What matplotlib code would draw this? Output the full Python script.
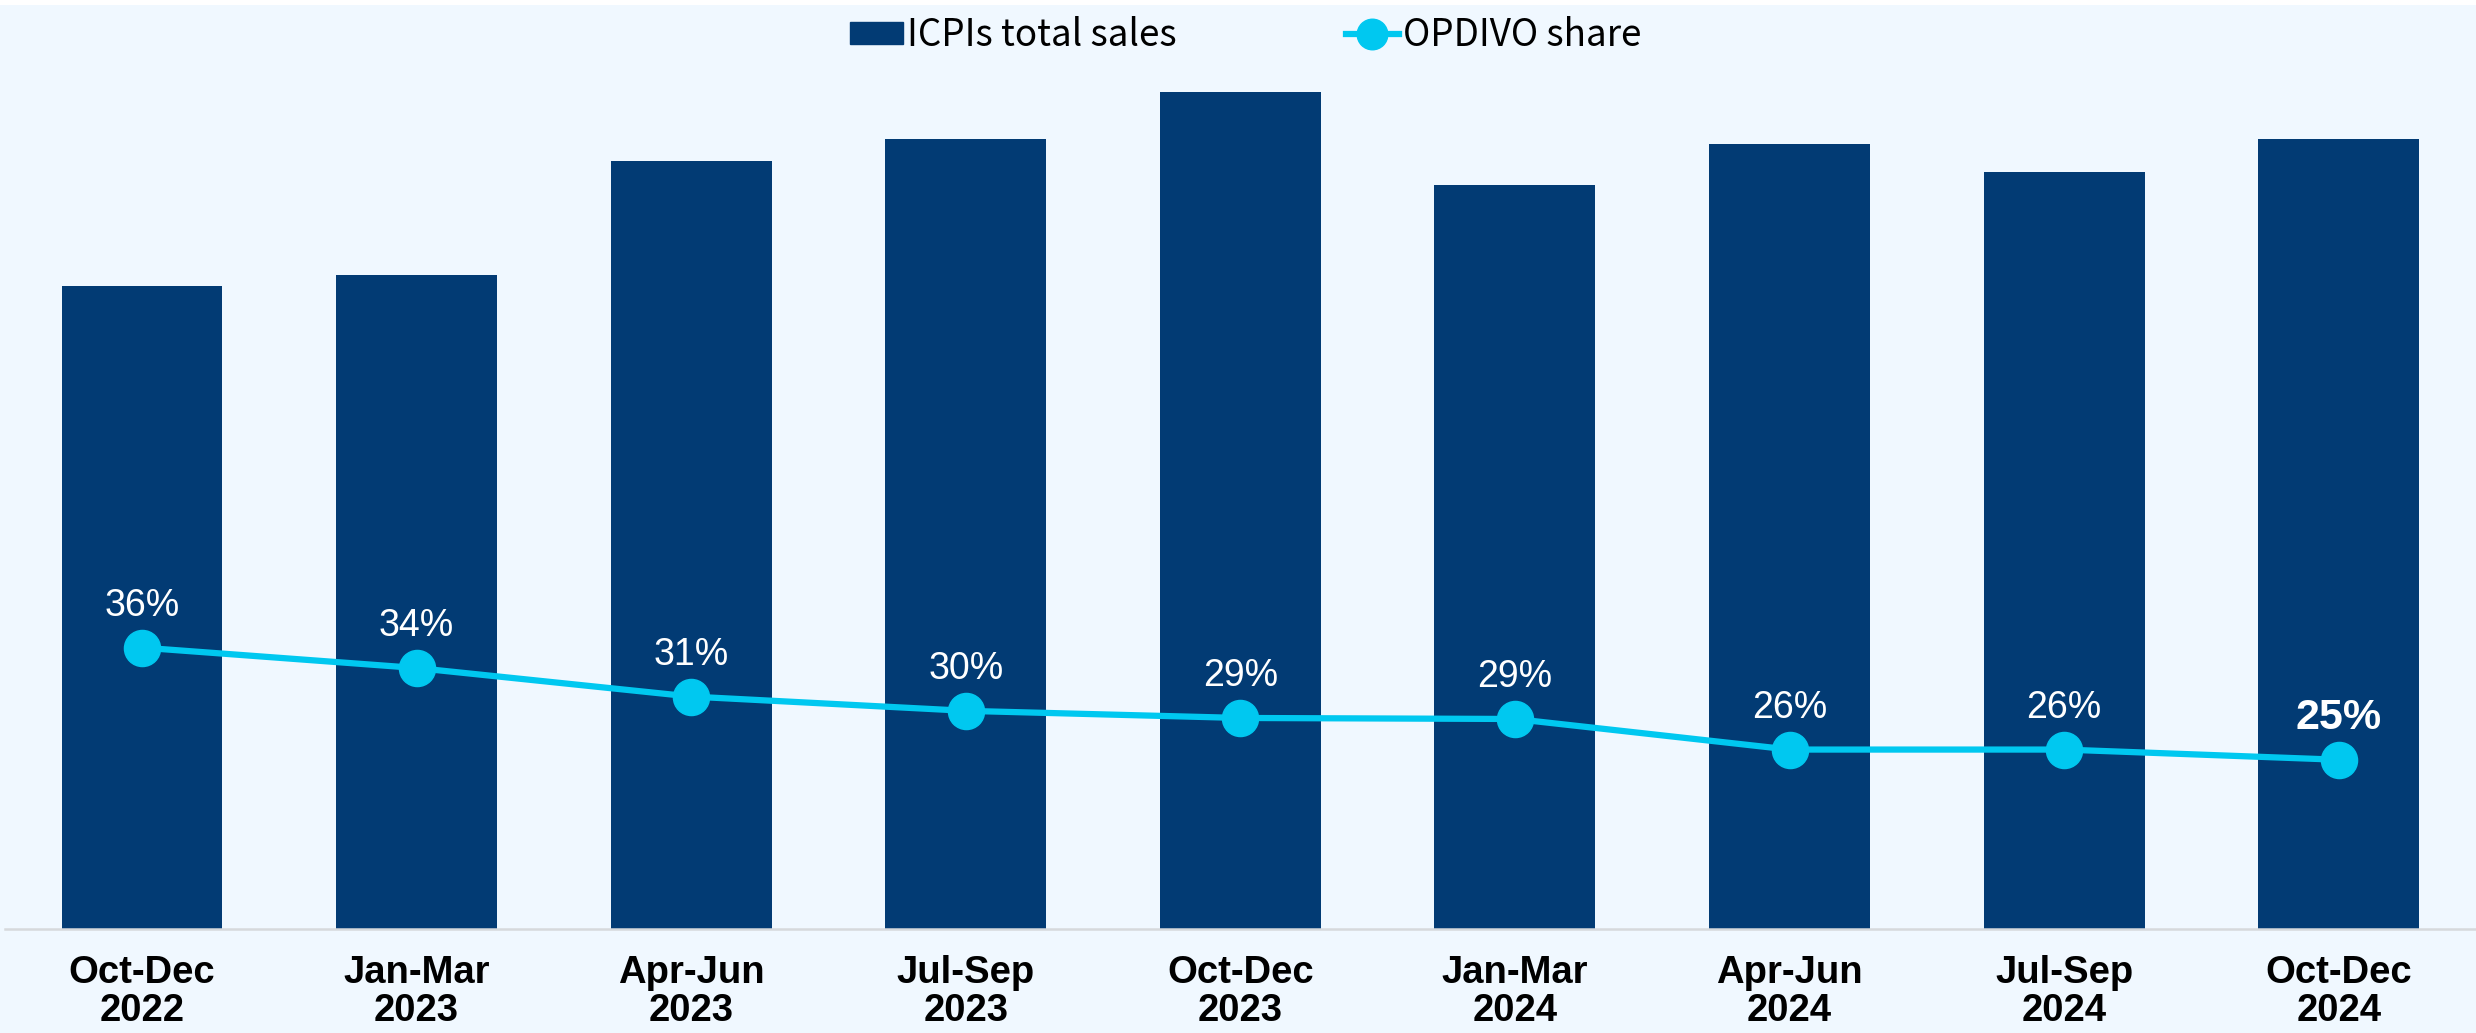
import matplotlib.pyplot as plt
import matplotlib.patches as mpatches
from matplotlib.lines import Line2D

# data (bar heights in arbitrary units, share in %)
periods = ["Oct-Dec\n2022", "Jan-Mar\n2023", "Apr-Jun\n2023", "Jul-Sep\n2023",
           "Oct-Dec\n2023", "Jan-Mar\n2024", "Apr-Jun\n2024", "Jul-Sep\n2024",
           "Oct-Dec\n2024"]
icpi_sales = [407, 414, 486, 500, 530, 471, 497, 479, 500]
opdivo_share = [36.0, 34.0, 31.2, 29.8, 29.1, 29.0, 26.0, 26.0, 25.0]

BAR_COLOR = "#023B74"
LINE_COLOR = "#00C8F0"
BG = "#F0F8FF"

fig = plt.figure(figsize=(24.76, 10.33), dpi=100, facecolor=BG)
# thin white strip at the very top
fig.patches.append(mpatches.Rectangle((0, 0.995), 1, 0.005, transform=fig.transFigure,
                                      facecolor="white", edgecolor="none", zorder=0))

ax = fig.add_axes([0.0019, 0.1009, 0.9981, 0.8379])
ax.set_facecolor(BG)
x = list(range(len(periods)))
ax.bar(x, icpi_sales, width=0.586, color=BAR_COLOR, zorder=2)
ax.set_xlim(-0.5, 8.5)
ax.set_ylim(0, 548)
ax.set_yticks([])
for s in ["top", "right", "left"]:
    ax.spines[s].set_visible(False)
ax.spines["bottom"].set_color("#D6D9DC")
ax.spines["bottom"].set_linewidth(1.8)
ax.set_xticks(x)
ax.set_xticklabels(periods, fontsize=27.5, fontweight="bold", family="Liberation Sans",
                   linespacing=1.05)
ax.tick_params(axis="x", length=0, pad=19)

ax2 = ax.twinx()
ax2.set_ylim(8.42, 93.33)
ax2.set_yticks([])
for s in ax2.spines.values():
    s.set_visible(False)
ax2.plot(x, opdivo_share, color=LINE_COLOR, lw=4.5, marker="o", markersize=26,
         zorder=3)
for i, v in enumerate(opdivo_share):
    last = i == len(opdivo_share) - 1
    ax2.annotate(f"{v:.0f}%", (i, v), xytext=(0, 30), textcoords="offset points",
                 ha="center", va="center", color="white",
                 fontsize=31 if last else 27, fontweight="bold" if last else "normal",
                 family="Liberation Sans")

handles = [mpatches.Patch(color=BAR_COLOR, label="ICPIs total sales"),
           Line2D([], [], color=LINE_COLOR, lw=4.5, marker="o", markersize=22,
                  label="OPDIVO share")]
fig.legend(handles=handles, loc="center", bbox_to_anchor=(0.503, 0.966), ncol=2,
           frameon=False, prop={"family": "Noto Sans CJK JP", "size": 26.5},
           handlelength=1.45, handleheight=0.55, handletextpad=0.1, columnspacing=4.6)

fig.savefig("out.png", dpi=100, facecolor=BG)
